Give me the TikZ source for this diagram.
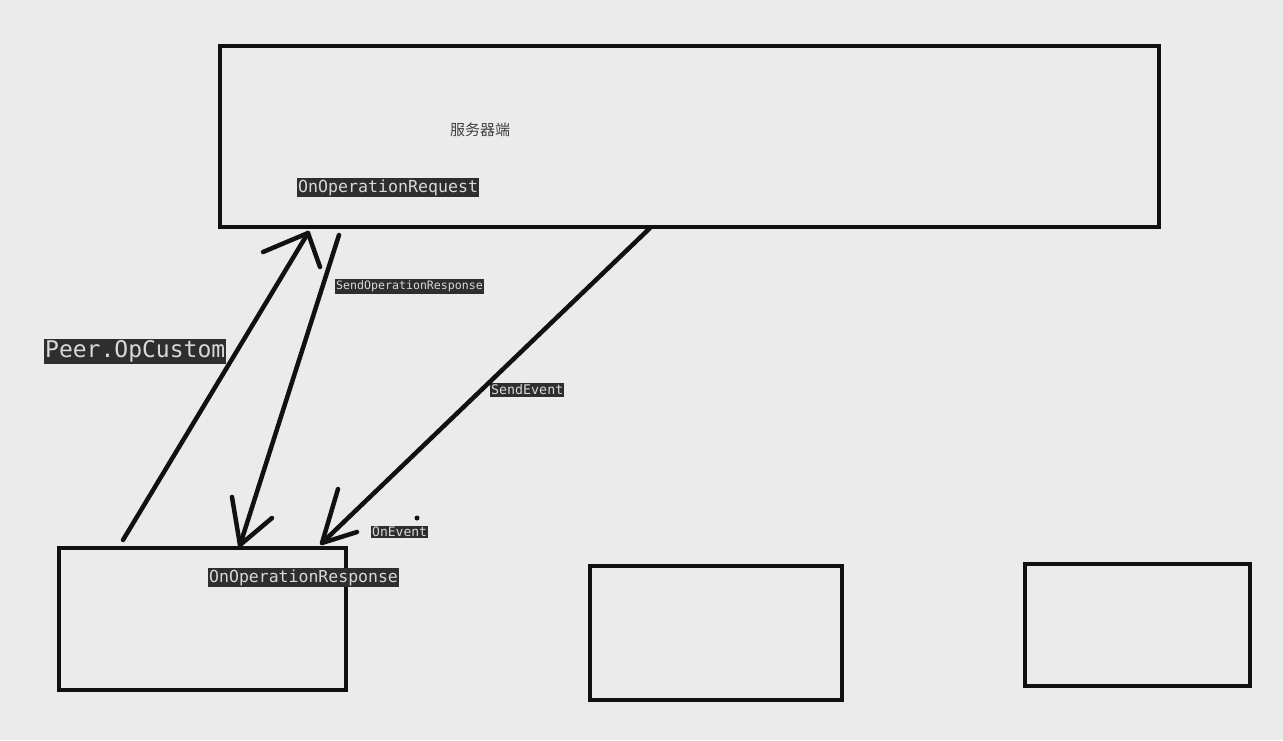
\documentclass[tikz,border=0pt]{standalone}
\usepackage{fontspec}
\newfontfamily\cjk{Noto Sans CJK SC}
\newfontfamily\monof{DejaVu Sans Mono}
\definecolor{bg}{HTML}{EBEBEB}
\definecolor{hl}{HTML}{2E2E2E}
\definecolor{hltext}{HTML}{D8D8D8}
\definecolor{ink}{HTML}{111111}
\begin{document}
\begin{tikzpicture}[x=1pt,y=-1pt,
  box/.style={draw=ink,line width=4pt},
  stroke/.style={draw=ink,line width=4.5pt,line cap=round,line join=round},
  sel/.style={fill=hl,text=hltext,inner xsep=1pt,inner ysep=1.5pt,font=\monof,anchor=west}]
\fill[bg] (0,0) rectangle (1283,740);
\useasboundingbox (0,0) rectangle (1283,740);
% boxes
\draw[box] (220,46) rectangle (1159,227);
\draw[box] (59,548) rectangle (346,690);
\draw[box] (590,566) rectangle (842,700);
\draw[box] (1025,564) rectangle (1250,686);
% labels
\node[font=\cjk\fontsize{15}{17}\selectfont,text=black!75] (title) at (480,130) {服务器端};
\node[sel,font=\monof\fontsize{16.6}{18}\selectfont] (req) at (297,187.5) {OnOperationRequest};
\node[sel,font=\monof\fontsize{11.6}{13}\selectfont] (sor) at (335,286.5) {SendOperationResponse};
\node[sel,font=\monof\fontsize{23}{25}\selectfont] (peer) at (44,351.5) {Peer.OpCustom};
\node[sel,font=\monof\fontsize{13.3}{15}\selectfont] (sev) at (490,390) {SendEvent};
\node[sel,font=\monof\fontsize{13}{15}\selectfont] (oev) at (371,532) {OnEvent};
\node[sel,font=\monof\fontsize{16.5}{18}\selectfont] (resp) at (208,577.5) {OnOperationResponse};
% arrow coordinates
\coordinate (a1s) at (123,540);
\coordinate (a1t) at (308,233);
\coordinate (a1l) at (263,252);
\coordinate (a1r) at (320,267);
\coordinate (a2s) at (339,235);
\coordinate (a2t) at (240,545);
\coordinate (a2l) at (232,497);
\coordinate (a2r) at (272,518);
\coordinate (a3s) at (650,228);
\coordinate (a3t) at (322,543);
\coordinate (a3l) at (338,489);
\coordinate (a3r) at (357,532);
\coordinate (dot) at (417,518);
% arrows
\draw[stroke] (a1s) -- (a1t);
\draw[stroke] (a1l) -- (a1t) -- (a1r);
\draw[stroke] (a2s) -- (a2t);
\draw[stroke] (a2l) -- (a2t) -- (a2r);
\draw[stroke] (a3s) -- (a3t);
\draw[stroke] (a3l) -- (a3t) -- (a3r);
\fill[ink] (dot) circle (2.5pt);
\end{tikzpicture}
\end{document}
